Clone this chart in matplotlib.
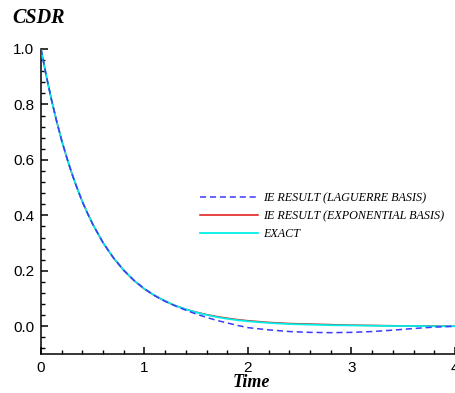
import matplotlib
matplotlib.use("Agg")
import matplotlib.pyplot as plt
from matplotlib.ticker import MultipleLocator

# data
t_exact = [0.0, 0.05, 0.1, 0.15, 0.2, 0.25, 0.3, 0.35, 0.4, 0.45, 0.5, 0.6, 0.7, 0.8, 0.9,
           1.0, 1.1, 1.2, 1.3, 1.4, 1.5, 1.6, 1.7, 1.8, 1.9, 2.0, 2.2, 2.4, 2.6, 2.8,
           3.0, 3.2, 3.4, 3.6, 3.8, 4.0]
exact = [1.000, 0.905, 0.819, 0.741, 0.670, 0.607, 0.549, 0.497, 0.449, 0.407, 0.368,
         0.301, 0.247, 0.202, 0.165, 0.135, 0.111, 0.091, 0.074, 0.061, 0.050, 0.041,
         0.033, 0.027, 0.022, 0.018, 0.012, 0.008, 0.006, 0.004, 0.003, 0.002, 0.001,
         0.001, 0.000, 0.000]
expo = [1.000, 0.905, 0.819, 0.741, 0.670, 0.607, 0.549, 0.497, 0.449, 0.407, 0.368,
        0.301, 0.246, 0.201, 0.164, 0.134, 0.110, 0.090, 0.074, 0.061, 0.051, 0.042,
        0.035, 0.029, 0.024, 0.020, 0.014, 0.010, 0.008, 0.006, 0.004, 0.003, 0.002,
        0.001, 0.001, 0.000]
t_lag = [0.0, 0.05, 0.1, 0.15, 0.2, 0.25, 0.3, 0.35, 0.4, 0.45, 0.5, 0.6, 0.7, 0.8, 0.9,
         1.0, 1.1, 1.2, 1.3, 1.4, 1.5, 1.6, 1.7, 1.8, 1.9, 2.0, 2.2, 2.4, 2.6, 2.8,
         3.0, 3.2, 3.4, 3.6, 3.8, 4.0]
laguerre = [1.000, 0.905, 0.819, 0.741, 0.670, 0.607, 0.549, 0.497, 0.449, 0.407, 0.368,
            0.301, 0.247, 0.202, 0.165, 0.135, 0.110, 0.090, 0.073, 0.058, 0.044, 0.032,
            0.021, 0.012, 0.003, -0.005, -0.013, -0.019, -0.022, -0.023, -0.022, -0.019,
            -0.014, -0.008, -0.003, 0.000]

labels = ["IE RESULT (LAGUERRE BASIS)", "IE RESULT (EXPONENTIAL BASIS)", "EXACT"]

W, H = 456, 393
fig = plt.figure(figsize=(W / 100, H / 100), dpi=100)
ax = fig.add_axes([41 / W, 1 - 354 / H, (455 - 41) / W, (354 - 49) / H])

l1, = ax.plot(t_lag, laguerre, color="#3a3aff", lw=1.1, ls=(0, (4, 2.5)), zorder=4)
l2, = ax.plot(t_exact, expo, color="#e01010", lw=1.1, zorder=2)
l3, = ax.plot(t_exact, exact, color="#00f0e8", lw=1.3, zorder=3)

ax.set_xlim(0, 4)
ax.set_ylim(-0.1, 1.0)
ax.xaxis.set_major_locator(MultipleLocator(1))
ax.xaxis.set_minor_locator(MultipleLocator(0.2))
ax.yaxis.set_major_locator(MultipleLocator(0.2))
ax.yaxis.set_minor_locator(MultipleLocator(0.04))
ax.yaxis.set_major_formatter(matplotlib.ticker.FormatStrFormatter("%.1f"))

for s in ["top", "right"]:
    ax.spines[s].set_visible(False)
for s in ["left", "bottom"]:
    ax.spines[s].set_linewidth(1.1)

ax.tick_params(which="major", direction="in", length=5, width=1.1, pad=5,
               labelsize=11)
ax.tick_params(which="minor", direction="in", length=3, width=1.0)
for lab in ax.get_xticklabels() + ax.get_yticklabels():
    lab.set_fontfamily("Liberation Sans")
ax.patch.set_alpha(0)

fig.text(12 / W, 1 - 23 / H, "CSDR", fontfamily="Liberation Serif", fontweight="bold",
         fontstyle="italic", fontsize=14.5, ha="left", va="baseline")
fig.text(251 / W, 1 - 387 / H, "Time", fontfamily="Liberation Serif", fontweight="bold",
         fontstyle="italic", fontsize=13, ha="center", va="baseline")

fig.legend([l1, l2, l3], labels, loc="center left",
           bbox_to_anchor=(200 / W, 1 - 216 / H), frameon=False, borderpad=0,
           borderaxespad=0, handlelength=4.8, handletextpad=0.4, labelspacing=0.5,
           prop={"family": "Liberation Serif", "style": "italic", "size": 8.7})

fig.savefig("out.png", dpi=100)
